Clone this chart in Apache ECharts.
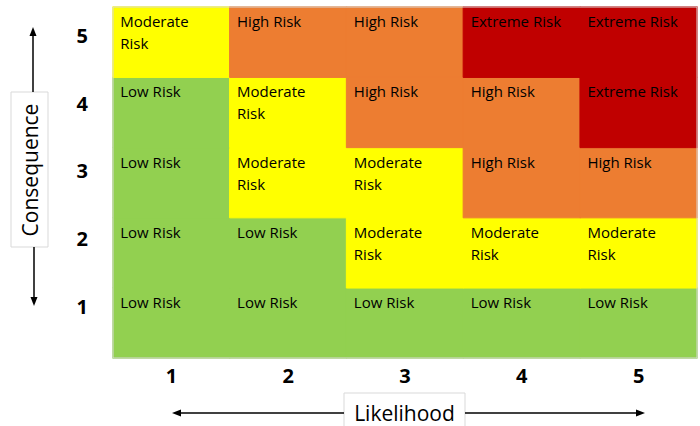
<!DOCTYPE html>
<html>
<head>
<meta charset="utf-8">
<script src="https://cdn.jsdelivr.net/npm/echarts@6/dist/echarts.min.js"></script>
<style>html,body{margin:0;padding:0;background:#fff}#c{width:700px;height:426px}</style>
</head>
<body>
<div id="c"></div>
<script>
// ---- data ----
const likelihoodLabels = ['1', '2', '3', '4', '5'];
const consequenceLabels = ['1', '2', '3', '4', '5'];
const consequenceTicks = [1, 2, 3, 4, 5];
const riskNames = ['Low Risk', 'Moderate Risk', 'High Risk', 'Extreme Risk'];
// risk level index per likelihood 1..5, for each consequence row
const consequence1 = [0, 0, 0, 0, 0];
const consequence2 = [0, 0, 1, 1, 1];
const consequence3 = [0, 1, 1, 2, 2];
const consequence4 = [0, 1, 2, 2, 3];
const consequence5 = [1, 2, 2, 3, 3];
const xAxisTitle = 'Likelihood';
const yAxisTitle = 'Consequence';

const riskColors = ['#92D050', '#FFFF00', '#ED7D31', '#C00000'];
const rows = [consequence1, consequence2, consequence3, consequence4, consequence5];
const cells = [];
rows.forEach((row, yi) => row.forEach((lvl, xi) => cells.push({
  value: [xi, yi, lvl],
  itemStyle: { borderColor: riskColors[lvl], borderWidth: 1 }
})));

const FONT = 'Open Sans';
const chart = echarts.init(document.getElementById('c'), null, { renderer: 'svg' });
const arrowStyle = { stroke: '#000', lineWidth: 1.5 };
chart.setOption({
  animation: false,
  backgroundColor: '#fff',
  grid: { left: 113, right: 3, top: 7, bottom: 68, show: false },
  xAxis: {
    type: 'category', data: likelihoodLabels,
    axisLine: { show: false }, axisTick: { show: false }, splitLine: { show: false },
    axisLabel: { margin: 7, fontSize: 20, fontWeight: 'bold', color: '#000', fontFamily: FONT }
  },
  yAxis: [{
    type: 'category', data: consequenceLabels,
    axisLine: { show: false }, axisTick: { show: false }, splitLine: { show: false },
    axisLabel: { show: false }
  }, {
    type: 'value', min: 0.231, max: 5.423, position: 'left',
    axisLine: { show: false }, axisTick: { show: false }, splitLine: { show: false },
    axisLabel: { customValues: consequenceTicks, margin: 25, fontSize: 20, fontWeight: 'bold', color: '#000', fontFamily: FONT }
  }],
  visualMap: {
    show: false, type: 'piecewise', dimension: 2,
    pieces: riskColors.map((c, i) => ({ value: i, color: c }))
  },
  series: [{
    type: 'heatmap', xAxisIndex: 0, yAxisIndex: 0,
    data: cells,
    emphasis: { disabled: true },
    label: {
      show: true, position: 'insideTopLeft', distance: 0,
      padding: [4, 0, 0, 8],
      formatter: p => riskNames[p.value[2]],
      color: '#000', fontFamily: FONT, fontSize: 15, lineHeight: 22,
      width: 100, overflow: 'break'
    }
  }],
  graphic: [
    { type: 'rect', shape: { x: 113, y: 7, width: 584, height: 351 }, style: { fill: 'none', stroke: '#d9d9d9', lineWidth: 1 }, z: 100 },
    { type: 'rect', shape: { x: 11, y: 92, width: 37, height: 155 }, style: { fill: '#fff', stroke: '#d9d9d9', lineWidth: 1 } },
    { type: 'text', x: 30, y: 170, rotation: Math.PI / 2, style: { text: yAxisTitle, font: '21px "Open Sans"', fill: '#000', align: 'center', verticalAlign: 'middle' } },
    { type: 'polyline', shape: { points: [[33, 92], [33, 34]] }, style: arrowStyle },
    { type: 'polygon', shape: { points: [[33, 27], [29.5, 36], [36.5, 36]] }, style: { fill: '#000' } },
    { type: 'polyline', shape: { points: [[34, 247], [34, 298]] }, style: arrowStyle },
    { type: 'polygon', shape: { points: [[34, 306], [30.5, 297], [37.5, 297]] }, style: { fill: '#000' } },
    { type: 'rect', shape: { x: 344, y: 393, width: 121, height: 40 }, style: { fill: '#fff', stroke: '#d9d9d9', lineWidth: 1 } },
    { type: 'text', x: 404.5, y: 413, style: { text: xAxisTitle, font: '21px "Open Sans"', fill: '#000', align: 'center', verticalAlign: 'middle' } },
    { type: 'polyline', shape: { points: [[180, 413], [344, 413]] }, style: arrowStyle },
    { type: 'polygon', shape: { points: [[172, 413], [181, 409.5], [181, 416.5]] }, style: { fill: '#000' } },
    { type: 'polyline', shape: { points: [[465, 413], [637, 413]] }, style: arrowStyle },
    { type: 'polygon', shape: { points: [[645, 413], [636, 409.5], [636, 416.5]] }, style: { fill: '#000' } }
  ]
});
</script>
</body>
</html>
